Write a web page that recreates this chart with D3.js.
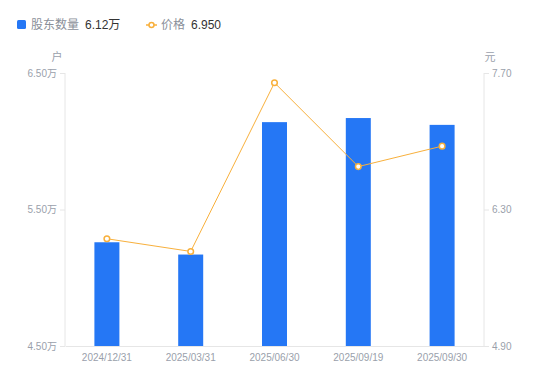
<!DOCTYPE html>
<html>
<head>
<meta charset="utf-8">
<script src="https://cdn.jsdelivr.net/npm/d3@7"></script>
<style>
  body { margin: 0; background: #fff; font-family: "Liberation Sans", "Noto Sans CJK SC", sans-serif; }
  svg text { font-family: "Liberation Sans", "Noto Sans CJK SC", sans-serif; }
</style>
</head>
<body>
<div id="chart"></div>
<script>
const dates = ["2024/12/31", "2025/03/31", "2025/06/30", "2025/09/19", "2025/09/30"];
const holders = [5.26, 5.17, 6.14, 6.17, 6.12]; // 万户
const prices = [6.00, 5.87, 7.60, 6.74, 6.95]; // 元
const leftTicks = [4.5, 5.5, 6.5];
const rightTicks = [4.9, 6.3, 7.7];

const width = 550, height = 381;
const margin = { top: 73, right: 66, bottom: 35, left: 65 };

const svg = d3.select("#chart").append("svg")
  .attr("width", width)
  .attr("height", height);

const x = d3.scaleBand().domain(dates).range([margin.left, width - margin.right]);
const yL = d3.scaleLinear().domain([4.5, 6.5]).range([height - margin.bottom, margin.top]);
const yR = d3.scaleLinear().domain([4.9, 7.7]).range([height - margin.bottom, margin.top]);

const barColor = "#2577f5", lineColor = "#f8b03c";
const gridColor = "#e6e6e6", textColor = "#9a9fab";

// axes
const leftAxis = svg.append("g")
  .attr("transform", `translate(${margin.left},0)`)
  .call(d3.axisLeft(yL).tickValues(leftTicks).tickSize(5).tickPadding(3).tickFormat(d => d3.format(".2f")(d) + "万"));
const rightAxis = svg.append("g")
  .attr("transform", `translate(${width - margin.right},0)`)
  .call(d3.axisRight(yR).tickValues(rightTicks).tickSize(5).tickPadding(3).tickFormat(d3.format(".2f")));
const bottomAxis = svg.append("g")
  .attr("transform", `translate(0,${height - margin.bottom})`)
  .call(d3.axisBottom(x).tickSize(0).tickPadding(8));

[leftAxis, rightAxis, bottomAxis].forEach(g => {
  g.select(".domain").attr("stroke", gridColor);
  g.selectAll(".tick line").attr("stroke", gridColor);
  g.selectAll(".tick text").attr("fill", textColor).style("font-size", "10px")
    .style("font-family", "'Liberation Sans', 'Noto Sans CJK SC', sans-serif");
});
leftAxis.select(".domain").attr("d", `M0,${margin.top}V${height - margin.bottom}`);
rightAxis.select(".domain").attr("d", `M0,${margin.top}V${height - margin.bottom}`);

// unit labels
svg.append("text").attr("x", 57).attr("y", 61).attr("text-anchor", "middle")
  .attr("fill", textColor).style("font-size", "11px").text("户");
svg.append("text").attr("x", 490).attr("y", 61).attr("text-anchor", "middle")
  .attr("fill", textColor).style("font-size", "11px").text("元");

// bars
const bw = 25;
svg.append("g").selectAll("rect")
  .data(holders)
  .enter().append("rect")
  .attr("x", (d, i) => x(dates[i]) + x.bandwidth() / 2 - bw / 2)
  .attr("y", d => yL(d))
  .attr("width", bw)
  .attr("height", d => yL(4.5) - yL(d))
  .attr("fill", barColor);

// price line
const line = d3.line()
  .x((d, i) => x(dates[i]) + x.bandwidth() / 2)
  .y(d => yR(d));
svg.append("path")
  .datum(prices)
  .attr("d", line)
  .attr("fill", "none")
  .attr("stroke", lineColor)
  .attr("stroke-width", 1);
svg.append("g").selectAll("circle")
  .data(prices)
  .enter().append("circle")
  .attr("cx", (d, i) => x(dates[i]) + x.bandwidth() / 2)
  .attr("cy", d => yR(d))
  .attr("r", 2.8)
  .attr("fill", "#fff")
  .attr("stroke", lineColor)
  .attr("stroke-width", 1.5);

// legend
const lg = svg.append("g").style("font-size", "12px");
lg.append("rect").attr("x", 17).attr("y", 20).attr("width", 9).attr("height", 9).attr("rx", 1.5).attr("fill", barColor);
lg.append("text").attr("x", 31).attr("y", 29).attr("fill", "#8a8f99").text("股东数量");
lg.append("text").attr("x", 85).attr("y", 29).attr("fill", "#333").text(d3.format(".2f")(holders[holders.length - 1]) + "万");

lg.append("line").attr("x1", 146).attr("x2", 157).attr("y1", 25).attr("y2", 25).attr("stroke", lineColor).attr("stroke-width", 1.5);
lg.append("circle").attr("cx", 151.5).attr("cy", 25).attr("r", 2.5).attr("fill", "#fff").attr("stroke", lineColor).attr("stroke-width", 1.5);
lg.append("text").attr("x", 161).attr("y", 29).attr("fill", "#8a8f99").text("价格");
lg.append("text").attr("x", 191).attr("y", 29).attr("fill", "#333").text(d3.format(".3f")(prices[prices.length - 1]));
</script>
</body>
</html>
